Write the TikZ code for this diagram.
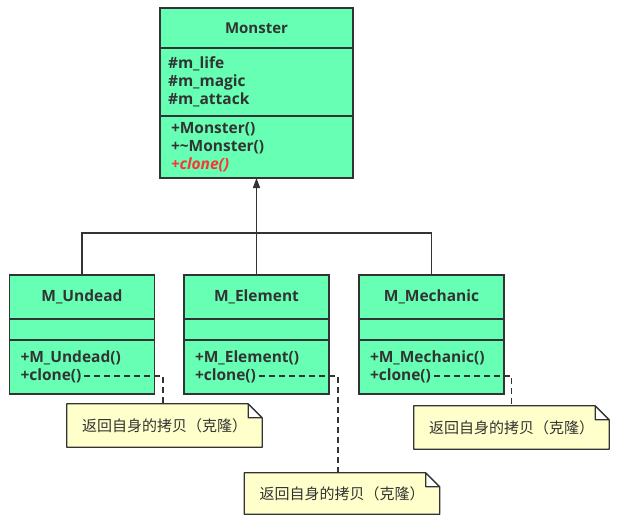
\documentclass[tikz,border=0pt]{standalone}
\usepackage{fontspec}
\setmainfont{Open Sans}
\newfontfamily\cjk{Noto Sans CJK SC}
\usetikzlibrary{positioning,arrows.meta,backgrounds}
\definecolor{umlgreen}{RGB}{102,255,179}
\definecolor{umlline}{RGB}{51,51,51}
\definecolor{umlred}{RGB}{255,51,51}
\definecolor{notefill}{RGB}{255,255,204}

\begin{document}
\begin{tikzpicture}[
    x=1pt, y=-1pt,
    >={Triangle[length=10pt,width=7pt]},
    font=\fontsize{15.5}{18}\selectfont\bfseries,
    every node/.style={text=umlline},
    part/.style={draw=umlline, fill=umlgreen, line width=1.3pt, inner sep=0pt, outer sep=0pt, minimum width=145pt},
    op/.style={anchor=west, inner sep=0pt, outer xsep=3pt},
    note/.style={font=\cjk\fontsize{15}{18}\selectfont, minimum width=195pt, text width=165pt, inner xsep=15pt, align=left},
    link/.style={draw=umlline, line width=1.3pt, dash pattern=on 6pt off 4pt}
]
\useasboundingbox (0,0) rectangle (618,524);

% base class
\node[part, minimum width=193pt, minimum height=40pt, font=\fontsize{15}{18}\selectfont\bfseries] (mon1) at (256.5,28) {Monster};
\node[part, minimum width=193pt, minimum height=68pt, text width=177pt, inner xsep=8pt, align=left, below=0pt of mon1] (mon2)
  {\#m\_life\\\#m\_magic\\\#m\_attack};
\node[part, minimum width=193pt, minimum height=62pt, text width=171pt, inner xsep=11pt, align=left, below=0pt of mon2] (mon3)
  {+Monster()\\+\textasciitilde Monster()\\{\color{umlred}\itshape +clone()}};

% subclasses
\foreach \id/\name/\x in {u/Undead/82, e/Element/256.5, m/Mechanic/431.5} {
  \node[part, minimum height=44pt] (\id1) at (\x,297) {M\_\name};
  \node[part, minimum height=21pt, below=0pt of \id1] (\id2) {};
  \node[part, minimum height=54pt, below=0pt of \id2] (\id3) {};
  \node[op] (\id-op) at ([xshift=8pt,yshift=9pt]\id3.west) {+M\_\name()};
  \node[op] (\id-cl) at ([xshift=8pt,yshift=-9pt]\id3.west) {+clone()};
}

\coordinate (bus) at (256.5,233);
\draw[->, draw=umlline, fill=umlline, line width=1.3pt] (e1.north) -- (mon3.south);
\draw[umlline, line width=1.3pt] (u1.north) |- (bus) -| (m1.north);

% notes
\node[note, minimum height=43pt] (n1) at (164.5,425.5) {返回自身的拷贝（克隆）};
\node[note, minimum height=41pt] (n2) at (342,493.5) {返回自身的拷贝（克隆）};
\node[note, minimum height=43pt] (n3) at (511.5,427.5) {返回自身的拷贝（克隆）};

\begin{scope}[on background layer]
\fill[white] (0,0) rectangle (618,524);
\foreach \n in {n1,n2,n3}
  \draw[umlline, fill=notefill, line width=1.3pt, line join=round]
    (\n.north west) -- ([xshift=-14pt]\n.north east) -- ([yshift=-14pt]\n.north east)
    -- (\n.south east) -- (\n.south west) -- cycle
    ([xshift=-14pt]\n.north east) |- ([yshift=-14pt]\n.north east);
\end{scope}

\draw[link] (u-cl.east) -| ([xshift=-1.5pt]n1.north);
\draw[link] (e-cl.east) -| ([xshift=-4pt]n2.north);
\draw[link] (m-cl.east) -| (n3.north);

\end{tikzpicture}
\end{document}
